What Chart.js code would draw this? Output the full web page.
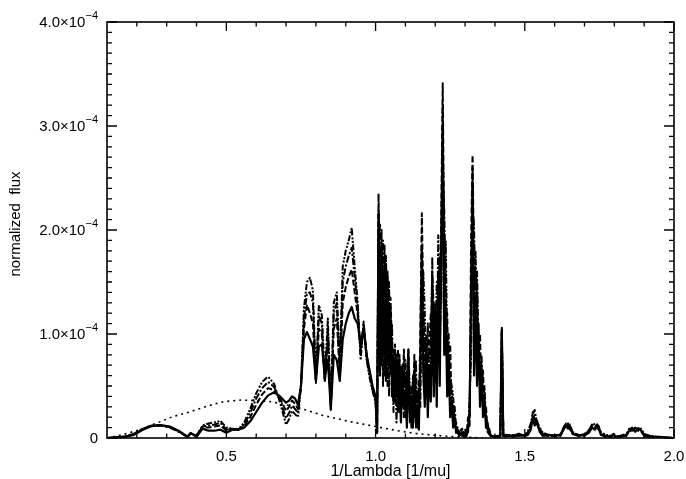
<!DOCTYPE html>
<html>
<head>
<meta charset="utf-8">
<title>normalized flux</title>
<script src="https://cdn.jsdelivr.net/npm/chart.js@4.4.1/dist/chart.umd.min.js"></script>
<style>
  html, body { margin: 0; padding: 0; background: #fff; }
  #wrap { width: 686px; height: 479px; position: relative; }
</style>
</head>
<body>
<div id="wrap"><canvas id="spectrum"></canvas></div>
<script>
// wavenumber grid [1/mu], finer where the band structure gets dense
const wavenumber = [
  0.10, 0.13, 0.16, 0.19, 0.22, 0.25, 0.28, 0.31, 0.34, 0.36,
  0.37, 0.38, 0.39, 0.40, 0.42, 0.44, 0.46, 0.48, 0.50, 0.52,
  0.54, 0.56, 0.58, 0.60, 0.62, 0.64, 0.66, 0.68, 0.70, 0.71,
  0.72, 0.73, 0.74,
  0.75, 0.76, 0.77, 0.78, 0.79, 0.80, 0.81, 0.82, 0.83, 0.84,
  0.85, 0.86, 0.87, 0.88, 0.89, 0.90, 0.91, 0.92, 0.93, 0.94,
  0.95, 0.96, 0.97, 0.98, 0.99, 1.00, 1.005,
  1.010, 1.015, 1.020, 1.025, 1.030, 1.035, 1.040, 1.045, 1.050, 1.055,
  1.060, 1.065, 1.070, 1.075, 1.080, 1.085, 1.090, 1.095, 1.100, 1.105,
  1.110, 1.115, 1.120, 1.125, 1.130, 1.135, 1.140, 1.145, 1.150, 1.155,
  1.160, 1.165, 1.170, 1.175, 1.180, 1.185, 1.190, 1.195, 1.200, 1.205,
  1.210, 1.215, 1.220, 1.225, 1.230, 1.235, 1.240, 1.245, 1.250, 1.255,
  1.260, 1.265, 1.270, 1.275, 1.280, 1.285, 1.290, 1.295, 1.300, 1.305,
  1.310, 1.315, 1.320, 1.325, 1.330, 1.335, 1.340, 1.345, 1.350, 1.355,
  1.360, 1.365, 1.370, 1.375, 1.380, 1.385, 1.390, 1.395,
  1.400, 1.410, 1.418, 1.423, 1.428, 1.440, 1.460, 1.480, 1.500, 1.510,
  1.520, 1.527, 1.533, 1.540, 1.550, 1.560, 1.580, 1.600, 1.620, 1.630,
  1.638, 1.645, 1.652, 1.660, 1.680, 1.700, 1.715, 1.725, 1.735, 1.745,
  1.755, 1.770, 1.790, 1.797, 1.805, 1.820, 1.840, 1.850, 1.860, 1.870,
  1.880, 1.890, 1.900, 1.920, 1.950, 2.000
];

// model fluxes, in units of 1e-5
const fluxSolid = [
  0.0, 0.05, 0.1, 0.3, 0.8, 1.15, 1.25, 1.1, 0.7, 0.3,
  0.1, 0.5, 0.3, 0.1, 0.9, 0.7, 0.7, 0.8, 0.5, 0.8,
  0.8, 1.0, 1.6, 2.5, 3.4, 4.1, 4.4, 4.0, 3.4, 3.6,
  4.0, 3.8, 3.2,
  5.0, 9.5, 10.2, 9.5, 8.8, 5.5, 8.8, 9.0, 5.8, 7.5,
  2.8, 8.0, 7.5, 5.5, 9.5, 11.0, 12.0, 12.6, 11.5, 11.0,
  9.0, 10.5, 8.0, 6.5, 5.0, 4.0, 0.5,
  21.5, 6.0, 18.5, 8.0, 17.0, 5.5, 15.5, 7.0, 12.5, 4.0,
  7.5, 3.5, 8.0, 2.5, 5.5, 1.5, 7.0, 3.0, 4.5, 1.0,
  7.5, 2.0, 4.0, 1.0, 6.5, 1.5, 3.0, 0.8, 8.0, 18.5,
  6.0, 3.0, 9.0, 2.0, 7.0, 3.5, 15.0, 4.0, 11.0, 3.0,
  16.0, 5.0, 19.0, 30.0, 8.0, 13.0, 4.0, 7.0, 2.0, 3.5,
  1.0, 2.0, 0.5, 0.8, 0.2, 0.4, 0.2, 0.6, 0.3, 0.2,
  1.0, 2.5, 14.0, 24.0, 6.0, 13.5, 5.0, 11.0, 3.0, 7.0,
  2.0, 4.0, 1.0, 1.5, 0.5, 0.3, 0.2, 0.1,
  0.1, 0.2, 0.2, 10.4, 0.2, 0.3, 0.2, 0.4, 0.2, 0.3,
  0.8, 2.0, 1.2, 1.5, 0.6, 0.2, 0.3, 0.2, 0.3, 0.8,
  1.2, 0.9, 1.1, 0.4, 0.2, 0.3, 0.5, 1.0, 0.8, 1.2,
  0.3, 0.2, 0.1, 0.4, 0.1, 0.2, 0.2, 0.7, 0.9, 0.6,
  0.9, 0.7, 0.2, 0.1, 0.1, 0.0
];

const fluxDashed = [
  0.0, 0.05, 0.1, 0.35, 0.85, 1.2, 1.25, 1.05, 0.65, 0.3,
  0.15, 0.45, 0.3, 0.15, 1.0, 1.0, 1.1, 1.2, 0.7, 0.8,
  0.8, 1.2, 2.0, 3.2, 4.2, 4.8, 4.6, 3.8, 2.6, 3.0,
  3.6, 3.3, 2.8,
  5.0, 10.5, 12.8, 12.0, 11.0, 5.3, 10.5, 10.0, 5.3, 9.5,
  3.0, 10.5, 11.5, 6.0, 13.0, 14.5, 15.5, 16.2, 14.0, 11.8,
  8.5, 10.8, 8.0, 6.3, 4.8, 3.8, 0.5,
  23.5, 9.0, 20.0, 5.0, 18.5, 9.5, 16.0, 4.0, 13.5, 9.0,
  3.5, 9.0, 4.0, 8.5, 2.5, 7.0, 3.5, 8.5, 2.0, 6.0,
  8.5, 1.5, 5.0, 3.0, 8.0, 1.0, 4.5, 2.0, 10.0, 21.6,
  13.0, 5.0, 10.0, 4.5, 9.0, 12.0, 6.0, 13.0, 7.0, 12.0,
  9.0, 14.0, 21.0, 34.1, 18.0, 8.0, 12.0, 5.0, 9.0, 2.5,
  3.0, 1.0, 1.5, 0.4, 0.6, 0.2, 0.5, 0.3, 0.8, 0.4,
  2.0, 1.0, 19.0, 27.2, 16.0, 8.0, 15.0, 6.0, 10.0, 4.0,
  6.5, 2.0, 3.0, 0.8, 1.0, 0.4, 0.3, 0.1,
  0.1, 0.3, 0.1, 10.6, 0.1, 0.2, 0.3, 0.2, 0.3, 0.4,
  1.0, 2.5, 1.6, 1.8, 0.8, 0.3, 0.2, 0.3, 0.2, 1.0,
  1.4, 1.0, 1.3, 0.5, 0.3, 0.2, 0.6, 1.2, 1.0, 1.4,
  0.4, 0.1, 0.2, 0.3, 0.2, 0.1, 0.3, 0.8, 1.0, 0.7,
  0.95, 0.8, 0.3, 0.2, 0.0, 0.0
];

const fluxDashDot = [
  0.0, 0.05, 0.15, 0.4, 0.9, 1.2, 1.2, 1.0, 0.6, 0.25,
  0.1, 0.4, 0.35, 0.2, 1.1, 1.2, 1.3, 1.45, 0.8, 0.9,
  0.8, 1.3, 2.4, 3.8, 4.8, 5.4, 4.9, 3.6, 1.9, 2.4,
  3.1, 2.8, 2.4,
  5.0, 11.5, 13.9, 14.0, 13.0, 5.6, 11.8, 11.0, 5.5, 10.5,
  2.7, 12.0, 13.0, 6.5, 15.0, 16.5, 17.5, 18.3, 15.5, 12.5,
  8.0, 11.0, 7.8, 6.0, 4.6, 3.6, 0.5,
  19.0, 20.5, 7.0, 19.0, 6.0, 17.5, 5.0, 15.0, 6.0, 11.0,
  2.5, 8.5, 1.5, 6.0, 8.0, 2.5, 6.0, 2.0, 7.5, 3.0,
  5.5, 3.5, 1.0, 6.0, 2.0, 7.5, 1.0, 5.5, 3.0, 14.0,
  12.0, 8.0, 4.0, 11.0, 5.0, 6.0, 17.4, 5.0, 13.0, 6.0,
  19.5, 8.0, 16.0, 26.0, 22.0, 15.0, 6.0, 10.0, 4.0, 4.5,
  2.0, 3.0, 1.0, 0.5, 0.3, 0.8, 0.5, 0.2, 0.6, 0.3,
  0.6, 3.5, 8.0, 22.0, 20.5, 11.0, 16.0, 8.5, 4.0, 8.0,
  3.0, 5.0, 1.5, 0.6, 0.4, 0.2, 0.1, 0.1,
  0.2, 0.1, 0.3, 10.2, 0.2, 0.3, 0.1, 0.3, 0.2, 0.5,
  1.2, 1.8, 2.2, 1.3, 0.9, 0.4, 0.2, 0.2, 0.4, 0.9,
  1.3, 1.2, 0.8, 0.6, 0.2, 0.4, 0.7, 1.3, 0.9, 1.0,
  0.5, 0.2, 0.1, 0.3, 0.1, 0.2, 0.4, 0.6, 0.8, 0.9,
  0.7, 0.6, 0.3, 0.1, 0.1, 0.0
];

const fluxDotDash = [
  0.0, 0.05, 0.15, 0.4, 0.85, 1.15, 1.2, 1.05, 0.65, 0.3,
  0.15, 0.45, 0.3, 0.2, 1.2, 1.4, 1.5, 1.65, 1.0, 0.9,
  0.8, 1.5, 2.8, 4.3, 5.4, 5.9, 5.2, 3.4, 1.3, 1.8,
  2.6, 2.3, 2.0,
  5.0, 12.5, 15.0, 15.4, 14.2, 5.8, 12.8, 11.8, 5.6, 11.5,
  3.2, 13.0, 14.0, 7.0, 16.5, 18.0, 19.0, 20.2, 16.5, 13.0,
  7.5, 11.2, 7.5, 5.8, 4.5, 3.4, 0.5,
  22.0, 12.0, 17.0, 12.0, 14.0, 16.5, 8.0, 13.0, 10.0, 7.0,
  8.5, 5.0, 6.0, 5.5, 7.5, 4.0, 3.0, 6.5, 5.5, 2.5,
  8.5, 4.5, 2.5, 4.5, 4.0, 5.0, 2.5, 3.5, 6.0, 11.0,
  16.0, 12.0, 6.5, 7.0, 8.0, 9.0, 16.0, 12.0, 9.0, 15.0,
  12.0, 17.5, 13.0, 32.0, 12.0, 19.0, 9.0, 6.5, 6.0, 5.0,
  4.0, 1.5, 0.8, 1.0, 0.5, 0.3, 0.9, 0.4, 0.2, 0.5,
  1.2, 2.0, 12.0, 26.0, 10.0, 18.0, 12.0, 9.0, 7.0, 5.5,
  4.0, 3.0, 2.0, 1.0, 0.6, 0.3, 0.2, 0.1,
  0.1, 0.2, 0.2, 10.0, 0.3, 0.2, 0.2, 0.2, 0.3, 0.6,
  1.4, 2.3, 2.7, 1.6, 1.0, 0.5, 0.3, 0.1, 0.3, 1.1,
  1.2, 1.4, 1.0, 0.5, 0.3, 0.3, 0.8, 1.1, 1.4, 0.9,
  0.6, 0.3, 0.2, 0.3, 0.2, 0.1, 0.3, 0.9, 0.7, 1.0,
  0.8, 0.9, 0.4, 0.2, 0.1, 0.0
];

// smooth continuum (dotted), units of 1e-5
const continuumWavenumber = [0.10, 0.15, 0.21, 0.27, 0.32, 0.38, 0.44, 0.49, 0.55, 0.60,
  0.65, 0.70, 0.75, 0.82, 0.91, 1.00, 1.07, 1.13, 1.20, 1.28, 1.36];
const continuumFlux = [0.0, 0.3, 0.8, 1.47, 2.05, 2.53, 3.1, 3.49, 3.65, 3.6,
  3.49, 3.2, 2.85, 2.2, 1.6, 1.1, 0.72, 0.45, 0.25, 0.1, 0.0];

// axis ticks
const xMajorTicks = [0.5, 1.0, 1.5, 2.0];
const xTickLabels = ['0.5', '1.0', '1.5', '2.0'];
const xMinorTicks = [0.2, 0.3, 0.4, 0.6, 0.7, 0.8, 0.9, 1.1, 1.2, 1.3, 1.4, 1.6, 1.7, 1.8, 1.9];
const yMajorTicks = [0, 1e-4, 2e-4, 3e-4, 4e-4];
const yTickLabels = ['0', '1.0', '2.0', '3.0', '4.0'];
const yMinorStep = 1e-5;

const FLUX_UNIT = 1e-5;
const FONT = '"Liberation Sans", Arial, sans-serif';

const toPoints = (xs, ys) => xs.map((x, i) => ({ x: x, y: ys[i] * FLUX_UNIT }));

[fluxSolid, fluxDashed, fluxDashDot, fluxDotDash].forEach(arr => {
    if (arr.length !== wavenumber.length) console.warn('length mismatch', arr.length, wavenumber.length);
});

const lineSet = (data, dash, width) => ({
    data: data,
    borderColor: '#000',
    borderWidth: width,
    borderDash: dash,
    borderJoinStyle: 'round',
    pointRadius: 0,
    tension: 0,
    fill: false
});

// frame, inward ticks on all four sides, and the labels
const axisFrame = {
    id: 'axisFrame',
    afterDraw(chart) {
        const { ctx, chartArea: a, scales: { x, y } } = chart;
        ctx.save();
        ctx.strokeStyle = '#000';
        ctx.fillStyle = '#000';
        ctx.lineWidth = 1.6;
        ctx.strokeRect(a.left, a.top, a.right - a.left, a.bottom - a.top);

        ctx.lineWidth = 1.3;
        ctx.beginPath();
        const xTick = (v, len) => {
            const px = x.getPixelForValue(v);
            ctx.moveTo(px, a.bottom); ctx.lineTo(px, a.bottom - len);
            ctx.moveTo(px, a.top); ctx.lineTo(px, a.top + len);
        };
        const yTick = (v, len) => {
            const py = y.getPixelForValue(v);
            ctx.moveTo(a.left, py); ctx.lineTo(a.left + len, py);
            ctx.moveTo(a.right, py); ctx.lineTo(a.right - len, py);
        };
        xMajorTicks.forEach(v => xTick(v, 9));
        xMinorTicks.forEach(v => xTick(v, 4.5));
        yMajorTicks.forEach(v => yTick(v, 10));
        for (let k = 1; k < 40; k++) {
            if (k % 10) yTick(k * yMinorStep, 5);
        }
        ctx.stroke();

        // x tick labels
        ctx.font = '15px ' + FONT;
        ctx.textAlign = 'center';
        ctx.textBaseline = 'top';
        xMajorTicks.forEach((v, i) => {
            ctx.fillText(xTickLabels[i], x.getPixelForValue(v), a.bottom + 11);
        });

        // y tick labels with a raised exponent
        const right = a.left - 9;
        yMajorTicks.forEach((v, i) => {
            const py = y.getPixelForValue(v);
            ctx.textAlign = 'right';
            ctx.textBaseline = 'middle';
            if (v === 0) {
                ctx.font = '15px ' + FONT;
                ctx.fillText(yTickLabels[i], right, py + 1);
                return;
            }
            ctx.font = '11px ' + FONT;
            const expText = '\u22124';
            const expW = ctx.measureText(expText).width;
            ctx.fillText(expText, right, py - 6);
            ctx.font = '15px ' + FONT;
            ctx.fillText(yTickLabels[i] + '\u00d710', right - expW, py + 1);
        });

        // axis titles
        ctx.font = '16px ' + FONT;
        ctx.textAlign = 'center';
        ctx.textBaseline = 'alphabetic';
        ctx.fillText('1/Lambda [1/mu]', (a.left + a.right) / 2, 476);

        ctx.translate(20, (a.top + a.bottom) / 2 - 6);
        ctx.rotate(-Math.PI / 2);
        ctx.font = '15px ' + FONT;
        ctx.fillText('normalized  flux', 0, 0);
        ctx.restore();
    }
};

const ctx = document.getElementById('spectrum').getContext('2d');
const spectrumChart = new Chart(ctx, {
    type: 'line',
    data: {
        datasets: [
            lineSet(toPoints(continuumWavenumber, continuumFlux), [2, 4], 1.6),
            lineSet(toPoints(wavenumber, fluxDotDash), [2, 1.5, 2, 1.5, 6, 2], 2.0),
            lineSet(toPoints(wavenumber, fluxDashDot), [7, 2, 2, 2], 2.0),
            lineSet(toPoints(wavenumber, fluxDashed), [6, 2.5], 2.0),
            lineSet(toPoints(wavenumber, fluxSolid), [], 2.2)
        ]
    },
    options: {
        responsive: true,
        maintainAspectRatio: false,
        animation: false,
        events: [],
        layout: { padding: { top: 22, right: 12, left: 0, bottom: 0 } },
        plugins: { legend: { display: false }, tooltip: { enabled: false } },
        scales: {
            x: {
                type: 'linear',
                min: 0.1,
                max: 2.0,
                grid: { display: false },
                border: { display: false },
                ticks: { display: false },
                afterFit: s => { s.height = 41; }
            },
            y: {
                type: 'linear',
                min: 0,
                max: 4e-4,
                grid: { display: false },
                border: { display: false },
                ticks: { display: false },
                afterFit: s => { s.width = 107; }
            }
        }
    },
    plugins: [axisFrame]
});
</script>
</body>
</html>
